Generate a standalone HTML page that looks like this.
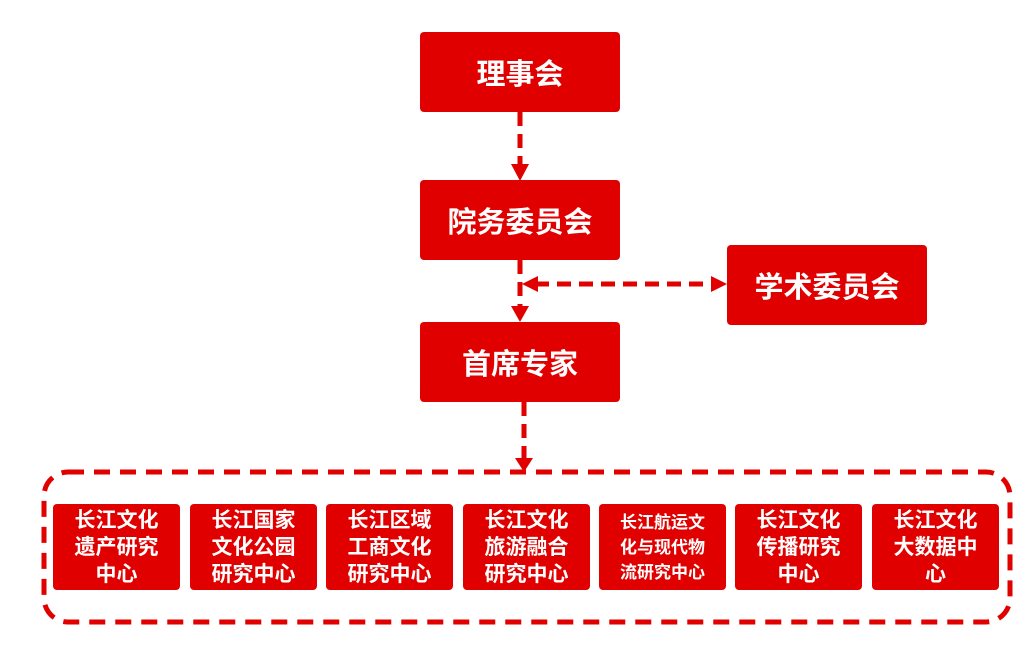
<!DOCTYPE html>
<html><head><meta charset="utf-8"><style>
body{margin:0;width:1020px;height:646px;background:#fff;position:relative;overflow:hidden;font-family:"Liberation Sans","Noto Sans CJK SC",sans-serif;font-weight:bold}
.b{position:absolute;background:#e00000;color:#fff;border-radius:4px;display:flex;align-items:center;justify-content:center;text-align:center}
.big{width:200px;height:80px;font-size:29px}
.s{top:504px;width:127px;height:86px;font-size:21px;line-height:27px}
svg{position:absolute;left:0;top:0}
</style></head><body>
<svg width="1020" height="646">
<g stroke="#e00000" stroke-width="5" fill="none" stroke-dasharray="14,8">
<line x1="520" y1="112" x2="520" y2="166"/>
<line x1="520" y1="260" x2="520" y2="308"/>
<line x1="535" y1="284" x2="712" y2="284"/>
<line x1="524" y1="402" x2="524" y2="458"/>
<rect x="44" y="472" width="966" height="150" rx="24" stroke-dasharray="16,10"/>
</g>
<g fill="#e00000">
<polygon points="511,164 529,164 520,181"/>
<polygon points="511,306 529,306 520,322"/>
<polygon points="515,458 533,458 524,472"/>
<polygon points="522,284 538,276 538,292"/>
<polygon points="727,284 711,276 711,292"/>
</g>
</svg>
<div class="b big" style="left:420px;top:32px">理事会</div>
<div class="b big" style="left:420px;top:180px">院务委员会</div>
<div class="b big" style="left:420px;top:322px">首席专家</div>
<div class="b big" style="left:727px;top:245px">学术委员会</div>
<div class="b s" style="left:53px">长江文化<br>遗产研究<br>中心</div>
<div class="b s" style="left:190px">长江国家<br>文化公园<br>研究中心</div>
<div class="b s" style="left:326px">长江区域<br>工商文化<br>研究中心</div>
<div class="b s" style="left:463px">长江文化<br>旅游融合<br>研究中心</div>
<div class="b s" style="left:599px;font-size:17px;line-height:25px">长江航运文<br>化与现代物<br>流研究中心</div>
<div class="b s" style="left:735px">长江文化<br>传播研究<br>中心</div>
<div class="b s" style="left:872px">长江文化<br>大数据中<br>心</div>
</body></html>
